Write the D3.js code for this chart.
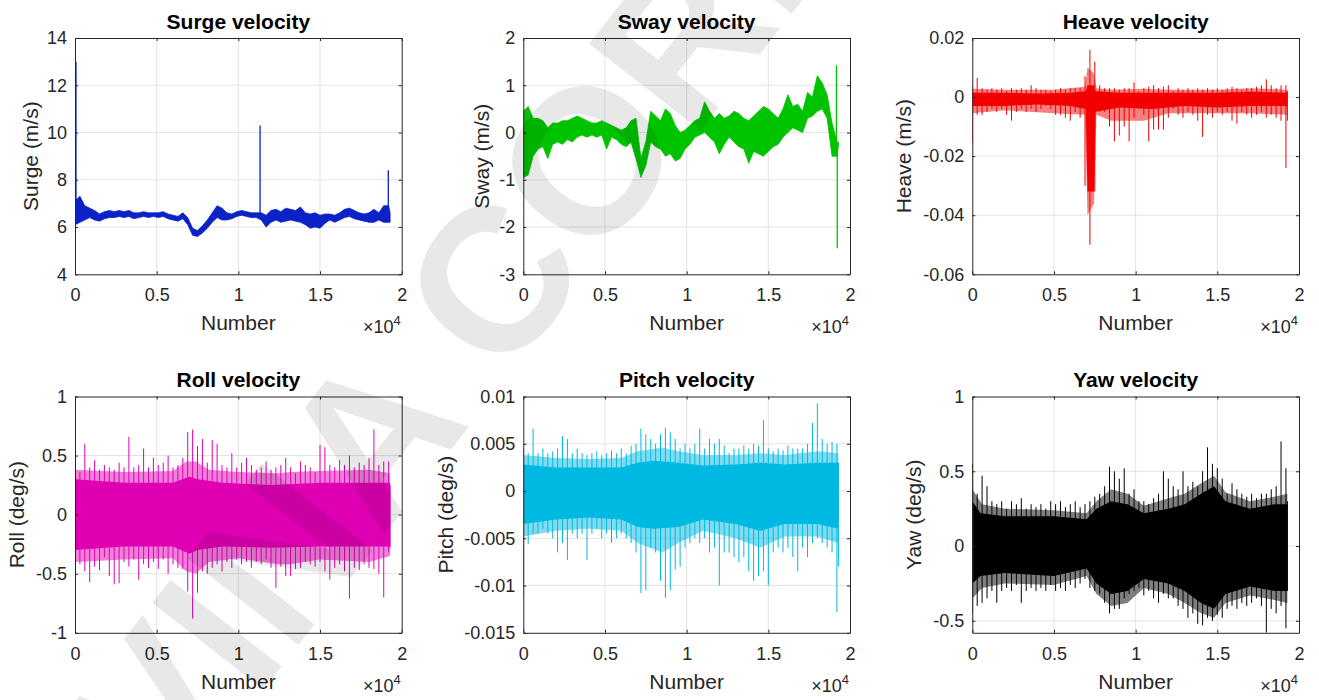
<!DOCTYPE html>
<html>
<head>
<meta charset="utf-8">
<script src="https://cdn.jsdelivr.net/npm/d3@7"></script>
<style>
  body { margin: 0; background: #fff; }
  text { font-family: Arial, "Liberation Sans", Helvetica, sans-serif; }
</style>
</head>
<body>
<svg id="fig" width="1319" height="700"></svg>
<script>
var sampleIdx = [0,300,600,900,1200,1500,1800,2100,2400,2700,3000,3300,3600,3900,4200,4500,4800,5100,5400,5700,
  6000,6300,6600,6900,7200,7500,7800,8100,8400,8700,9000,9300,9600,9900,10200,10500,10800,11100,11400,11700,
  12000,12300,12600,12900,13200,13500,13800,14100,14400,14700,15000,15300,15600,15900,16200,16500,16800,17100,17400,17700,
  18000,18300,18600,18900,19200,19290];

var xTickVals = [0, 5000, 10000, 15000, 20000];
var xTickLabels = ['0', '0.5', '1', '1.5', '2'];

// surge
var surgeLo = [6.1,6.2,6.3,6.4,6.3,6.25,6.35,6.4,6.4,6.45,6.4,6.45,6.35,6.4,6.45,6.4,6.45,6.4,6.45,6.35,
  6.3,6.25,6.35,6.1,5.65,5.6,5.75,5.95,6.2,6.4,6.3,6.3,6.35,6.45,6.5,6.45,6.4,6.4,6.3,6.0,
  6.2,6.3,6.2,6.25,6.3,6.25,6.2,6.1,5.95,6.0,5.95,6.15,6.3,6.2,6.3,6.4,6.45,6.35,6.3,6.25,
  6.2,6.2,6.3,6.2,6.2,6.2];
var surgeHi = [7.1,7.3,6.9,6.8,6.7,6.55,6.65,6.7,6.65,6.7,6.65,6.7,6.6,6.6,6.65,6.6,6.6,6.6,6.65,6.55,
  6.5,6.45,6.6,6.4,5.95,5.85,6.05,6.3,6.6,6.9,6.8,6.6,6.55,6.65,6.7,6.65,6.6,6.6,6.6,6.5,
  6.7,6.75,6.65,6.8,6.75,6.7,6.85,6.6,6.55,6.6,6.5,6.55,6.55,6.5,6.6,6.75,6.8,6.7,6.6,6.55,
  6.6,6.75,6.6,6.9,6.9,6.6];
var surgeSpikeX = [60, 11330, 19180];
var surgeSpikeLo = [6.5, 6.5, 6.6];
var surgeSpikeHi = [13.0, 10.3, 8.4];
var surgeTicks = [4, 6, 8, 10, 12, 14];

// sway
var swayLo = [-0.95,-0.9,-0.5,-0.35,-0.3,-0.55,-0.25,-0.2,-0.25,-0.15,-0.2,-0.1,-0.05,-0.1,-0.05,-0.1,-0.05,-0.35,-0.1,-0.15,
  -0.25,-0.3,-0.2,-0.55,-0.95,-0.7,-0.2,-0.3,-0.35,-0.5,-0.45,-0.6,-0.55,-0.35,-0.25,-0.1,-0.05,0.0,-0.1,-0.2,
  -0.45,-0.25,-0.1,-0.2,-0.3,-0.35,-0.65,-0.4,-0.45,-0.5,-0.4,-0.3,-0.25,-0.1,0.0,0.1,0.05,0.0,0.3,0.35,
  0.45,0.5,0.3,-0.5,-0.5,-0.3];
var swayHi = [0.45,0.55,0.3,0.3,0.25,0.1,0.2,0.2,0.25,0.25,0.3,0.35,0.3,0.25,0.2,0.2,0.25,0.2,0.15,0.1,
  0.05,0.1,0.25,0.3,-0.55,-0.2,0.45,0.35,0.25,0.5,0.4,0.15,0.0,0.05,0.15,0.25,0.3,0.65,0.45,0.3,
  0.4,0.3,0.35,0.45,0.4,0.3,0.25,0.35,0.45,0.55,0.5,0.4,0.3,0.5,0.8,0.55,0.6,0.45,0.85,0.75,
  1.2,1.05,0.8,0.2,-0.2,-0.2];
var swaySpikeX = [19170, 19220];
var swaySpikeLo = [-0.5, -2.45];
var swaySpikeHi = [1.42, -0.3];
var swayTicks = [-3, -2, -1, 0, 1, 2];

// heave
var heaveLo = [-0.015,-0.006,-0.006,-0.005,-0.004,-0.005,-0.004,-0.006,-0.008,-0.005,-0.004,-0.005,-0.004,-0.005,-0.004,-0.003,-0.004,-0.006,-0.006,-0.007,
  -0.008,-0.005,-0.007,-0.03,-0.05,-0.032,-0.005,-0.005,-0.01,-0.015,-0.013,-0.01,-0.015,-0.007,-0.004,-0.006,-0.015,-0.011,-0.011,-0.011,
  -0.007,-0.004,-0.006,-0.007,-0.005,-0.006,-0.008,-0.0135,-0.006,-0.007,-0.005,-0.006,-0.005,-0.008,-0.009,-0.005,-0.006,-0.007,-0.006,-0.005,
  -0.007,-0.006,-0.007,-0.008,-0.024,-0.008];
var heaveHi = [0.004,0.0065,0.003,0.0025,0.003,0.0025,0.003,0.002,0.003,0.0025,0.003,0.0025,0.004,0.003,0.0025,0.0025,0.002,0.0025,0.003,0.0025,
  0.003,0.003,0.003,0.007,0.016,0.012,0.004,0.003,0.003,0.003,0.0025,0.003,0.003,0.005,0.002,0.003,0.0035,0.004,0.003,0.0035,
  0.004,0.002,0.003,0.0025,0.003,0.0025,0.003,0.0025,0.003,0.0025,0.003,0.0025,0.003,0.0035,0.003,0.0025,0.003,0.003,0.0035,0.004,
  0.006,0.004,0.003,0.004,0.004,0.002];
var heaveCoreX = [0, 2000, 4000, 6000, 6950, 7050, 7450, 7550, 9000, 11000, 13000, 15000, 17000, 19290];
var heaveCoreLo = [-0.003,-0.003,-0.0025,-0.003,-0.004,-0.032,-0.032,-0.005,-0.0035,-0.004,-0.003,-0.0035,-0.003,-0.003];
var heaveCoreHi = [0.0015,0.0015,0.0012,0.0015,0.002,0.004,0.004,0.002,0.0015,0.0015,0.0015,0.0015,0.0018,0.0015];
var heaveFringeX = [0, 2000, 5000, 6900, 7050, 7450, 7600, 8500, 10500, 12000, 15000, 17000, 19290];
var heaveFringeLo = [-0.0055,-0.0045,-0.0055,-0.006,-0.04,-0.036,-0.006,-0.008,-0.008,-0.0055,-0.0055,-0.0055,-0.006];
var heaveFringeHi = [0.0028,0.0025,0.0025,0.0035,0.01,0.008,0.003,0.0025,0.0028,0.0025,0.0025,0.003,0.0025];
var heaveTicks = [-0.06, -0.04, -0.02, 0, 0.02];

// roll
var rollLo = [-0.38,-0.42,-0.48,-0.57,-0.44,-0.47,-0.36,-0.52,-0.59,-0.58,-0.40,-0.44,-0.38,-0.55,-0.42,-0.45,-0.40,-0.46,-0.38,-0.50,
  -0.42,-0.45,-0.46,-0.65,-0.88,-0.66,-0.48,-0.50,-0.45,-0.42,-0.48,-0.40,-0.45,-0.38,-0.42,-0.40,-0.45,-0.40,-0.42,-0.38,
  -0.45,-0.62,-0.44,-0.52,-0.52,-0.46,-0.45,-0.40,-0.42,-0.44,-0.40,-0.48,-0.55,-0.45,-0.42,-0.48,-0.71,-0.45,-0.47,-0.42,
  -0.45,-0.46,-0.50,-0.70,-0.32,-0.28];
var rollHi = [0.38,0.36,0.60,0.40,0.46,0.38,0.42,0.40,0.38,0.44,0.40,0.66,0.40,0.42,0.56,0.40,0.48,0.42,0.44,0.50,
  0.40,0.42,0.48,0.70,0.72,0.58,0.64,0.44,0.63,0.60,0.42,0.40,0.52,0.40,0.44,0.48,0.42,0.38,0.40,0.45,
  0.38,0.40,0.42,0.48,0.40,0.35,0.45,0.42,0.40,0.36,0.59,0.57,0.42,0.40,0.46,0.42,0.50,0.40,0.44,0.42,
  0.48,0.72,0.42,0.45,0.45,0.25];
var rollCoreX = [0, 3000, 6000, 7000, 7500, 9000, 12000, 15000, 18000, 19290];
var rollCoreLo = [-0.3,-0.27,-0.27,-0.33,-0.3,-0.27,-0.28,-0.27,-0.27,-0.27];
var rollCoreHi = [0.3,0.27,0.27,0.32,0.3,0.27,0.25,0.27,0.27,0.27];
var rollFringeX = [0, 3000, 6000, 6800, 7400, 8200, 10000, 12500, 13200, 15000, 18000, 19290];
var rollFringeLo = [-0.4,-0.38,-0.37,-0.48,-0.5,-0.4,-0.37,-0.42,-0.42,-0.38,-0.4,-0.35];
var rollFringeHi = [0.38,0.36,0.37,0.45,0.45,0.38,0.36,0.35,0.36,0.37,0.38,0.35];
var rollTicks = [-1, -0.5, 0, 0.5, 1];

// pitch
var pitchLo = [-0.0113,-0.0056,-0.0045,-0.0045,-0.004,-0.0045,-0.005,-0.0065,-0.0055,-0.0073,-0.0045,-0.005,-0.0045,-0.0073,-0.0045,-0.004,-0.005,-0.0045,-0.0055,-0.005,
  -0.0045,-0.005,-0.0055,-0.0065,-0.0108,-0.0105,-0.006,-0.0065,-0.0095,-0.0113,-0.0105,-0.0083,-0.008,-0.006,-0.0055,-0.005,-0.0055,-0.005,-0.0065,-0.006,
  -0.01,-0.0065,-0.0065,-0.007,-0.0075,-0.007,-0.0085,-0.0095,-0.009,-0.0085,-0.01,-0.0065,-0.006,-0.0065,-0.006,-0.007,-0.0085,-0.006,-0.007,-0.0055,
  -0.005,-0.0055,-0.006,-0.0065,-0.0128,-0.008];
var pitchHi = [0.0045,0.004,0.0066,0.004,0.0045,0.004,0.0042,0.0045,0.0058,0.0055,0.004,0.0045,0.004,0.0038,0.004,0.0042,0.0038,0.004,0.0043,0.004,
  0.0045,0.004,0.0048,0.005,0.0066,0.006,0.0055,0.005,0.006,0.0067,0.0062,0.0055,0.0045,0.005,0.0045,0.005,0.0066,0.0045,0.0055,0.005,
  0.0055,0.0048,0.004,0.0045,0.0045,0.0048,0.0045,0.005,0.0048,0.0075,0.0045,0.0042,0.0045,0.0043,0.0048,0.0045,0.0045,0.0045,0.005,0.0072,
  0.0093,0.0055,0.005,0.0052,0.005,0.003];
var pitchCoreX = [0, 2000, 4000, 6000, 7000, 8000, 9500, 11000, 13000, 14500, 16000, 18000, 19290];
var pitchCoreLo = [-0.0035,-0.003,-0.0028,-0.003,-0.0038,-0.004,-0.0038,-0.003,-0.0035,-0.0042,-0.0035,-0.0035,-0.004];
var pitchCoreHi = [0.0028,0.0025,0.0025,0.0025,0.003,0.0032,0.003,0.0027,0.0028,0.003,0.0028,0.003,0.003];
var pitchFringeX = [0, 2000, 4000, 6000, 7000, 8500, 9500, 11000, 13000, 14500, 16000, 18000, 19290];
var pitchFringeLo = [-0.0048,-0.0042,-0.004,-0.0042,-0.0055,-0.0065,-0.0055,-0.0042,-0.005,-0.006,-0.0048,-0.0048,-0.0055];
var pitchFringeHi = [0.0038,0.0035,0.0034,0.0035,0.0042,0.0046,0.0042,0.0038,0.0038,0.004,0.0038,0.0042,0.004];
var pitchTicks = [-0.015, -0.01, -0.005, 0, 0.005, 0.01];

// yaw
var yawLo = [-0.45,-0.4,-0.38,-0.35,-0.3,-0.38,-0.3,-0.28,-0.3,-0.26,-0.38,-0.3,-0.28,-0.3,-0.28,-0.3,-0.26,-0.3,-0.28,-0.3,
  -0.26,-0.28,-0.25,-0.22,-0.28,-0.3,-0.32,-0.38,-0.45,-0.42,-0.42,-0.35,-0.32,-0.3,-0.28,-0.33,-0.3,-0.35,-0.38,-0.32,
  -0.35,-0.35,-0.4,-0.42,-0.48,-0.45,-0.52,-0.53,-0.48,-0.5,-0.46,-0.48,-0.42,-0.4,-0.42,-0.38,-0.4,-0.38,-0.35,-0.4,
  -0.58,-0.42,-0.45,-0.4,-0.55,-0.3];
var yawHi = [0.55,0.35,0.47,0.4,0.3,0.28,0.3,0.25,0.3,0.28,0.32,0.25,0.28,0.26,0.28,0.25,0.3,0.28,0.3,0.26,
  0.28,0.3,0.26,0.28,0.3,0.33,0.35,0.4,0.53,0.5,0.45,0.52,0.35,0.38,0.3,0.3,0.28,0.32,0.35,0.5,
  0.45,0.4,0.38,0.5,0.4,0.43,0.4,0.5,0.66,0.55,0.52,0.45,0.35,0.42,0.38,0.35,0.33,0.35,0.32,0.35,
  0.35,0.38,0.4,0.7,0.52,0.3];
var yawCoreX = [0, 500, 2000, 5000, 7000, 7600, 8500, 9500, 10500, 12000, 13000, 14000, 14800, 15500, 17000, 18500, 19290];
var yawCoreLo = [-0.25,-0.2,-0.18,-0.2,-0.15,-0.25,-0.32,-0.3,-0.22,-0.25,-0.3,-0.38,-0.42,-0.32,-0.27,-0.3,-0.3];
var yawCoreHi = [0.3,0.22,0.2,0.2,0.18,0.25,0.3,0.28,0.22,0.25,0.28,0.35,0.4,0.3,0.25,0.28,0.28];
var yawFringeX = [0, 600, 2000, 5000, 7000, 7600, 8500, 9500, 10500, 12000, 13000, 14000, 14800, 15500, 17000, 18500, 19290];
var yawFringeLo = [-0.35,-0.28,-0.25,-0.26,-0.2,-0.32,-0.4,-0.38,-0.28,-0.32,-0.38,-0.45,-0.48,-0.38,-0.33,-0.36,-0.38];
var yawFringeHi = [0.38,0.28,0.25,0.24,0.22,0.3,0.38,0.35,0.27,0.32,0.35,0.42,0.47,0.36,0.3,0.33,0.35];
var yawTicks = [-0.5, 0, 0.5, 1];

var panels = [
  {title: 'Surge velocity', ylabel: 'Surge (m/s)', color: '#0b22c6', ydom: [4, 14], yticks: surgeTicks,
   lo: surgeLo, hi: surgeHi, core: null, fringe: null, spikes: [surgeSpikeX, surgeSpikeLo, surgeSpikeHi]},
  {title: 'Sway velocity', ylabel: 'Sway (m/s)', color: '#00c300', ydom: [-3, 2], yticks: swayTicks,
   lo: swayLo, hi: swayHi, core: null, fringe: null, spikes: [swaySpikeX, swaySpikeLo, swaySpikeHi]},
  {title: 'Heave velocity', ylabel: 'Heave (m/s)', color: '#f20000', ydom: [-0.06, 0.02], yticks: heaveTicks,
   lo: heaveLo, hi: heaveHi, core: [heaveCoreX, heaveCoreLo, heaveCoreHi], fringe: [heaveFringeX, heaveFringeLo, heaveFringeHi], spikes: null},
  {title: 'Roll velocity', ylabel: 'Roll (deg/s)', color: '#e000b4', ydom: [-1, 1], yticks: rollTicks,
   lo: rollLo, hi: rollHi, core: [rollCoreX, rollCoreLo, rollCoreHi], fringe: [rollFringeX, rollFringeLo, rollFringeHi], spikes: null},
  {title: 'Pitch velocity', ylabel: 'Pitch (deg/s)', color: '#00b9e2', ydom: [-0.015, 0.01], yticks: pitchTicks,
   lo: pitchLo, hi: pitchHi, core: [pitchCoreX, pitchCoreLo, pitchCoreHi], fringe: [pitchFringeX, pitchFringeLo, pitchFringeHi], spikes: null},
  {title: 'Yaw velocity', ylabel: 'Yaw (deg/s)', color: '#000000', ydom: [-0.58, 1], yticks: yawTicks,
   lo: yawLo, hi: yawHi, core: [yawCoreX, yawCoreLo, yawCoreHi], fringe: [yawFringeX, yawFringeLo, yawFringeHi], spikes: null}
];

// layout
var boxes = [[75, 38], [523.3, 38], [972.3, 38], [75, 396.5], [523.3, 396.5], [972.3, 396.5]];
var labelOff = [37, 34, 61, 51, 70, 51];
var W = 326.7, H = 236.3;
var axisCol = '#262626';

var svg = d3.select('#fig');

function bandPath(band, x, y) {
  return d3.area()
    .x(function(d) { return x(band[0][d]); })
    .y0(function(d) { return y(band[1][d]); })
    .y1(function(d) { return y(band[2][d]); })(d3.range(band[0].length));
}

panels.forEach(function(p, k) {
  var g = svg.append('g').attr('transform', 'translate(' + boxes[k][0] + ',' + boxes[k][1] + ')');
  var x = d3.scaleLinear().domain([0, 20000]).range([0, W]);
  var y = d3.scaleLinear().domain(p.ydom).range([H, 0]);

  g.append('clipPath').attr('id', 'clip' + k)
    .append('rect').attr('width', W).attr('height', H);

  // grid
  var grid = g.append('g').attr('stroke', '#e3e3e3').attr('stroke-width', 1);
  xTickVals.slice(1, -1).forEach(function(v) {
    grid.append('line').attr('x1', x(v)).attr('x2', x(v)).attr('y1', 0).attr('y2', H);
  });
  p.yticks.forEach(function(v) {
    if (y(v) <= 0.5 || y(v) >= H - 0.5) return;
    grid.append('line').attr('x1', 0).attr('x2', W).attr('y1', y(v)).attr('y2', y(v));
  });

  var plot = g.append('g').attr('clip-path', 'url(#clip' + k + ')');

  if (p.core) {
    // dense noise: half-covered fringe, solid core, then the single peaks
    plot.append('path').attr('d', bandPath(p.fringe, x, y))
      .attr('fill', p.color).attr('fill-opacity', 0.5);
    plot.append('path').attr('d', bandPath(p.core, x, y))
      .attr('fill', p.color);
    sampleIdx.forEach(function(s, i) {
      plot.append('line')
        .attr('x1', x(s)).attr('x2', x(s))
        .attr('y1', y(p.lo[i])).attr('y2', y(p.hi[i]))
        .attr('stroke', p.color).attr('stroke-width', 1);
    });
  } else {
    // slow signal: min/max band of the trace
    plot.append('path').attr('d', bandPath([sampleIdx, p.lo, p.hi], x, y))
      .attr('fill', p.color)
      .attr('stroke', p.color).attr('stroke-width', 0.8).attr('stroke-linejoin', 'round');
  }

  if (p.spikes) {
    p.spikes[0].forEach(function(s, i) {
      plot.append('line')
        .attr('x1', x(s)).attr('x2', x(s))
        .attr('y1', y(p.spikes[1][i])).attr('y2', y(p.spikes[2][i]))
        .attr('stroke', p.color).attr('stroke-width', 1.3);
    });
  }

  // axes, ticks pointing inward
  var fmtX = function(d, i) { return xTickLabels[i]; };
  var fmtY = function(d) { return String(d); };
  g.append('g').attr('transform', 'translate(0,' + H + ')')
    .call(d3.axisBottom(x).tickValues(xTickVals).tickFormat(fmtX).tickSizeInner(-3).tickSizeOuter(0).tickPadding(14));
  g.append('g')
    .call(d3.axisLeft(y).tickValues(p.yticks).tickFormat(fmtY).tickSizeInner(-3).tickSizeOuter(0).tickPadding(8));
  g.append('g')
    .call(d3.axisTop(x).tickValues(xTickVals).tickFormat('').tickSizeInner(-3).tickSizeOuter(0));
  g.append('g').attr('transform', 'translate(' + W + ',0)')
    .call(d3.axisRight(y).tickValues(p.yticks).tickFormat('').tickSizeInner(-3).tickSizeOuter(0));
  g.selectAll('.domain, .tick line').attr('stroke', axisCol);
  g.selectAll('.tick text').attr('fill', axisCol).style('font-size', '18px')
    .style('font-family', 'Arial, "Liberation Sans", sans-serif');

  g.append('text')
    .attr('x', W / 2).attr('y', -9.5)
    .attr('text-anchor', 'middle')
    .style('font-size', '21px').style('font-weight', 'bold')
    .attr('fill', '#000')
    .text(p.title);

  g.append('text')
    .attr('x', W / 2).attr('y', H + 56)
    .attr('text-anchor', 'middle')
    .style('font-size', '21px')
    .attr('fill', axisCol)
    .text('Number');

  var ex = g.append('text')
    .attr('x', W - 1).attr('y', H + 59)
    .attr('text-anchor', 'end')
    .style('font-size', '18px')
    .attr('fill', axisCol);
  ex.append('tspan').text('\u00d710');
  ex.append('tspan').attr('dy', -8).style('font-size', '13px').text('4');

  g.append('text')
    .attr('transform', 'translate(' + (-labelOff[k]) + ',' + (H / 2) + ') rotate(-90)')
    .attr('text-anchor', 'middle')
    .style('font-size', '21px')
    .attr('fill', axisCol)
    .text(p.ylabel);
});

// watermark over the figure
svg.append('text')
  .attr('transform', 'translate(89,913) rotate(-52)')
  .style('font-size', '205px').style('font-weight', 'bold')
  .attr('fill', '#000')
  .attr('fill-opacity', 0.09)
  .text('AVINA CORPORATION');
</script>
</body>
</html>
